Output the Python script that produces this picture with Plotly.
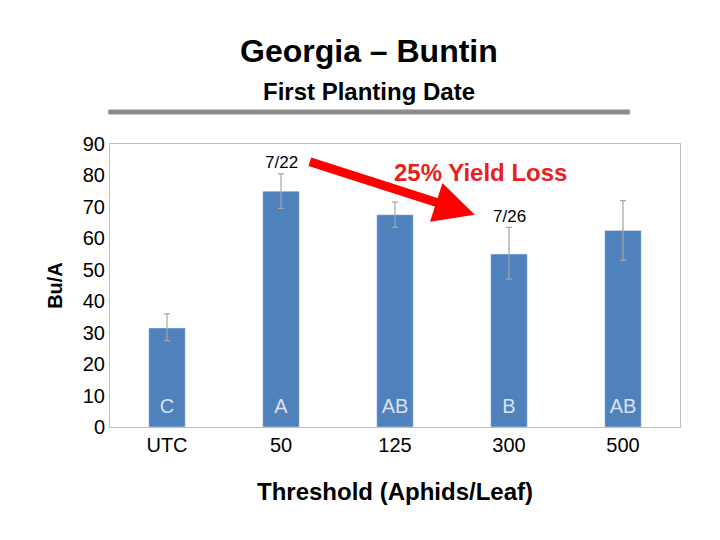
import plotly.graph_objects as go

categories = ["UTC", "50", "125", "300", "500"]
yields = [31.5, 75, 67.5, 55, 62.5]
err_plus = [4.5, 5.5, 4.0, 8.5, 9.5]
err_minus = [4.0, 5.5, 4.0, 8.0, 9.5]
letters = ["C", "A", "AB", "B", "AB"]

fig = go.Figure()
fig.add_trace(go.Bar(x=categories, y=yields, width=0.32, marker_color="#4f81bd",
                     error_y=dict(type="data", array=err_plus, arrayminus=err_minus,
                                  color="#a6a6a6", thickness=1.2, width=3)))
fig.add_trace(go.Scatter(x=categories, y=[6]*5, mode="text", text=letters,
                         textfont=dict(size=20, color="#d9e2f0", family="Liberation Sans"),
                         hoverinfo="skip"))
fig.update_layout(
    width=720, height=540, showlegend=False, plot_bgcolor="white", paper_bgcolor="white",
    margin=dict(l=102, r=48, t=136, b=121),
    font=dict(family="Liberation Sans", color="black"),
    xaxis=dict(type="category", tickfont=dict(size=20), showline=True, linecolor="#bfbfbf", mirror=True,
               ticks="", title=dict(text="<b>Threshold (Aphids/Leaf)</b>", font=dict(size=24), standoff=28)),
    yaxis=dict(range=[0, 90], dtick=10, tickfont=dict(size=20), showgrid=False,
               showline=True, linecolor="#bfbfbf", mirror=True, zeroline=False,
               title=dict(text="<b>Bu/A</b>", font=dict(size=20), standoff=14)),
    shapes=[dict(type="line", xref="paper", yref="paper", x0=-0.003, x1=0.912, y0=1.113, y1=1.113,
                 line=dict(color="#8c8c8c", width=5))],
    annotations=[
        dict(text="<b>Georgia – Buntin</b>", xref="paper", yref="paper", x=0.455, y=1.33,
             yanchor="middle", showarrow=False, font=dict(size=32)),
        dict(text="<b>First Planting Date</b>", xref="paper", yref="paper", x=0.455, y=1.185,
             yanchor="middle", showarrow=False, font=dict(size=24)),
        dict(text="7/22", x=1, y=84, showarrow=False, font=dict(size=17)),
        dict(text="7/26", x=3.0, y=67, showarrow=False, font=dict(size=17)),
        dict(text="<b>25% Yield Loss</b>", x=2.75, y=81, showarrow=False,
             font=dict(size=24, color="#e8211d")),
        dict(x=2.7, y=67.5, ax=1.24, ay=84.5, xref="x", yref="y", axref="x", ayref="y",
             showarrow=True, arrowhead=2, arrowsize=0.9, arrowwidth=9, arrowcolor="#ff0000",
             text=""),
    ],
)
fig.write_html("out.html")
